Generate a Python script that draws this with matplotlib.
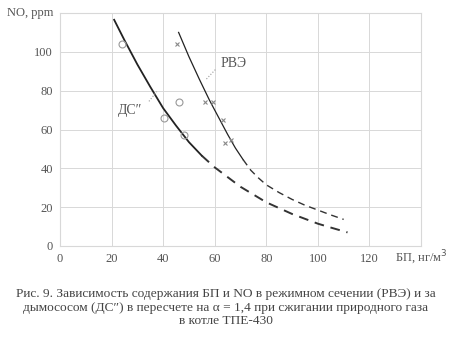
import matplotlib
matplotlib.use("Agg")
import matplotlib.pyplot as plt

# Curve behind the smoke exhauster (ДС″)
ds_x = [21, 25, 30, 35, 40, 45, 50, 55, 60, 65, 70, 75, 80, 85, 90, 95, 100, 105, 111.5]
ds_y = [116.5, 106, 93.5, 82, 71, 62, 53.5, 46.5, 40.5, 35.5, 30.5, 26.5, 22.5, 19.5,
        16.5, 14, 11.5, 9.5, 7]
ds_solid_until = 55

# Curve for the regime section (РВЭ)
rve_x = [46, 50, 54, 58, 62, 65, 68, 71, 74, 77, 80, 85, 90, 95, 100, 105, 110]
rve_y = [110, 97.5, 86, 75, 65, 57.5, 50.5, 44.5, 39, 35, 31.5, 27.5, 24, 21, 18.5, 16, 13.7]
rve_solid_until = 71

# Measured points
ds_pts_x = [24, 46, 40.5, 48]
ds_pts_y = [104, 74, 66, 57]
rve_pts_x = [45.3, 56.2, 59.4, 63.3, 64, 66.5]
rve_pts_y = [104, 74.3, 74.3, 65, 53, 54.6]

x_ticks = [0, 20, 40, 60, 80, 100, 120]
y_ticks = [0, 20, 40, 60, 80, 100]

caption = ("Рис. 9. Зависимость содержания БП и NO в режимном сечении (РВЭ) и за\n"
           "дымососом (ДС\u2033) в пересчете на α = 1,4 при сжигании природного газа\n"
           "в котле ТПЕ-430")

plt.rcParams['font.family'] = ['Liberation Serif', 'DejaVu Serif']

fig = plt.figure(figsize=(4.52, 3.37), dpi=100)
ax = fig.add_axes([60/452, 1 - 246/337, 361/452, 233/337])
ax.set_xlim(0, 140)
ax.set_ylim(0, 120)

grid_c = '#d8d8d8'
for v in x_ticks + [140]:
    ax.axvline(v, color=grid_c, lw=0.7, zorder=0)
for v in y_ticks + [120]:
    ax.axhline(v, color=grid_c, lw=0.7, zorder=0)
for s in ax.spines.values():
    s.set_color(grid_c)
    s.set_linewidth(0.8)

txt_c = '#555555'
ax.set_xticks(x_ticks)
ax.set_yticks(y_ticks)
ax.tick_params(length=0, labelsize=9, colors=txt_c, pad=5)


def split_curve(xs, ys, cut):
    solid = [(x, y) for x, y in zip(xs, ys) if x <= cut]
    dashed = [(x, y) for x, y in zip(xs, ys) if x >= cut]
    return list(zip(*solid)), list(zip(*dashed))


styles = [
    (ds_x, ds_y, ds_solid_until, 1.3, 1.4),
    (rve_x, rve_y, rve_solid_until, 0.9, 1.0),
]
for xs, ys, cut, lw_solid, lw_dash in styles:
    (sx, sy), (dx, dy) = split_curve(xs, ys, cut)
    ax.plot(sx, sy, color='#222222', lw=lw_solid, solid_joinstyle='round')
    ax.plot(dx, dy, color='#333333', lw=lw_dash, dashes=(5, 3.5))

ax.plot(ds_pts_x, ds_pts_y, 'o', ms=5, mfc='none', mec='#999999', mew=0.8)
ax.plot(rve_pts_x, rve_pts_y, 'x', ms=3.5, mec='#888888', mew=0.8)

# Curve labels with dotted leaders
ax.text(27.2, 70, 'ДС\u2033', fontsize=10, color=txt_c, ha='center', va='center')
ax.plot([34.5, 37.5], [74.5, 79.5], color='#999999', lw=0.8, ls=':')
ax.text(67.5, 94, 'РВЭ', fontsize=10, color=txt_c, ha='center', va='center')
ax.plot([56.8, 60.7], [86, 91.5], color='#999999', lw=0.8, ls=':')

# Axis names placed like extra tick labels
ax.text(-2.7, 120, 'NO, ppm', fontsize=9, color=txt_c, ha='right', va='center')
ax.text(140, -6.3, 'БП, нг/м$^3$', fontsize=9, color=txt_c, ha='center', va='center')

fig.text(0.5, 1 - 307.5/337, caption, fontsize=9.6, color='#444444',
         ha='center', va='center', linespacing=1.2)

fig.savefig('out.png', dpi=100, facecolor='white')
